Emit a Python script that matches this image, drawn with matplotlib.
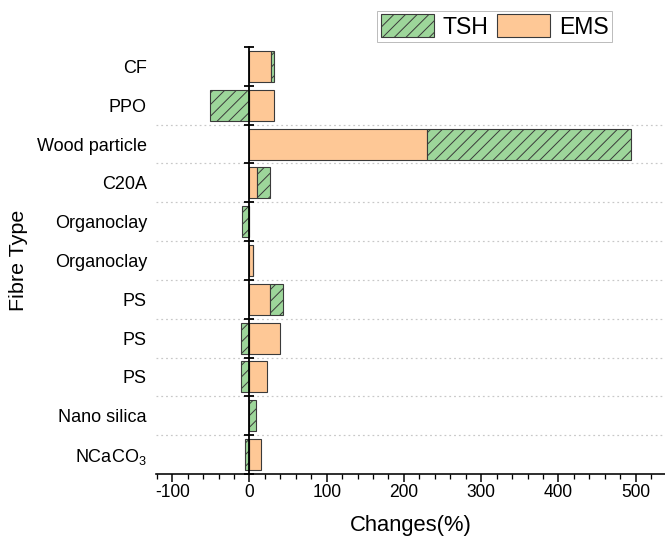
import numpy as np
import matplotlib
matplotlib.use("Agg")
import matplotlib.pyplot as plt

DPI = 140


def pt(px):
    # pixel size -> points at the chosen dpi
    return px * 72.0 / DPI


fibres = ["CF", "PPO", "Wood particle", "C20A", "Organoclay", "Organoclay",
          "PS", "PS", "PS", "Nano silica", r"NCaCO$_3$"]
ems = [28, 32, 230, 10, 0, 4, 27, 40, 23, 0, 15]
tsh = [4, -51, 264, 16, -10, 0, 16, -11, -11, 9, -6]
xticks = [-100, 0, 100, 200, 300, 400, 500]

plt.rcParams['font.family'] = ['Liberation Sans', 'DejaVu Sans']
plt.rcParams['mathtext.fontset'] = 'custom'
plt.rcParams['mathtext.rm'] = 'Liberation Sans'
plt.rcParams['mathtext.it'] = 'Liberation Sans'
plt.rcParams['axes.unicode_minus'] = False
plt.rcParams['hatch.linewidth'] = 0.5
plt.rcParams['hatch.color'] = '#3a3a3a'

green = '#9dd69a'
orange = '#fec896'
edge = '#3a3a3a'

fig = plt.figure(figsize=(665 / DPI, 541 / DPI), dpi=DPI)
ax = fig.add_axes([156 / 665, 1 - 474 / 541, 509 / 665, (474 - 47) / 541])

ems_a = np.array(ems, dtype=float)
tsh_a = np.array(tsh, dtype=float)
ypos = np.arange(len(fibres))
# positive TSH stacks after the EMS bar, negative TSH grows left from zero
tsh_left = np.where(tsh_a >= 0, np.maximum(ems_a, 0), 0)

bh = 0.8
b_ems = ax.barh(ypos, ems_a, height=bh, color=orange, edgecolor=edge,
                linewidth=pt(1.1), label='EMS', zorder=2)
b_tsh = ax.barh(ypos, tsh_a, left=tsh_left, height=bh, color=green,
                edgecolor=edge, linewidth=pt(1.1), hatch='////', label='TSH',
                zorder=2)

ax.set_xlim(-121, 538)
ax.set_ylim(len(fibres) - 0.5, -0.5)

# dotted separators between categories (none above PPO)
bounds = np.arange(len(fibres) + 1) - 0.5
for b in bounds[2:-1]:
    ax.axhline(b, color='#c8c8c8', linestyle=(0, (1.5, 2.5)), linewidth=pt(1.2),
               zorder=0)

# spines: bottom axis plus the zero line that carries the category ticks
ax.spines['top'].set_visible(False)
ax.spines['left'].set_visible(False)
ax.spines['right'].set_position(('data', 0))
ax.spines['right'].set_linewidth(pt(1.8))
ax.spines['right'].set_zorder(3)
ax.spines['bottom'].set_linewidth(pt(1.6))

ax.set_yticks(ypos)
ax.set_yticklabels(fibres, fontsize=pt(18))
ax.set_yticks(bounds, minor=True)
ax.tick_params(axis='y', which='major', length=0, pad=pt(9), left=True,
               right=False)
ax.tick_params(axis='y', which='minor', direction='inout', length=pt(10),
               width=pt(1.8), left=False, right=True, labelright=False)

ax.set_xticks(xticks)
ax.set_xticks(np.arange(-120, 540, 20), minor=True)
ax.tick_params(axis='x', which='major', length=pt(8), width=pt(1.5),
               labelsize=pt(17.5), pad=pt(2))
ax.tick_params(axis='x', which='minor', length=pt(4.5), width=pt(1.3))

ax.set_xlabel('Changes(%)', fontsize=pt(22), labelpad=pt(14))
ax.set_ylabel('Fibre Type', fontsize=pt(21.5), labelpad=pt(9))

leg = ax.legend([b_tsh, b_ems], ['TSH', 'EMS'], ncol=2, loc='upper right',
                bbox_to_anchor=(612 / 665, 1 - 11 / 541),
                bbox_transform=fig.transFigure, borderaxespad=0,
                fontsize=pt(23), handlelength=2.3, handleheight=1.15,
                handletextpad=0.4, columnspacing=0.35, borderpad=0.15,
                fancybox=False, framealpha=1, edgecolor='#bdbdbd')
leg.get_frame().set_linewidth(pt(1))

fig.savefig('out.png', dpi=DPI)
